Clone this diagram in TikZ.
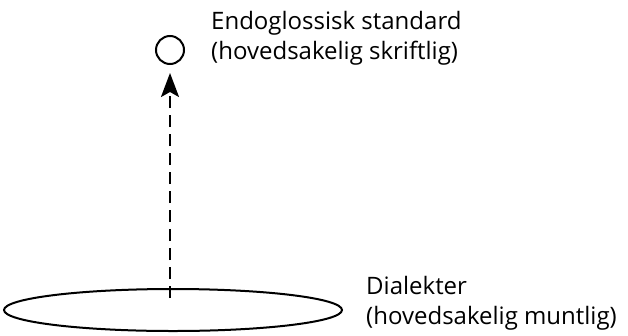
\documentclass[tikz,border=0pt]{standalone}
\usepackage{fontspec}
\setmainfont{Open Sans}
\usetikzlibrary{arrows.meta,shapes.geometric}
\begin{document}
\begin{tikzpicture}[x=1pt,y=-1pt,
  lbl/.style={anchor=base west,inner sep=0pt,align=left,font=\fontsize{24}{30}\selectfont},
  shp/.style={draw,line width=2pt}]
\useasboundingbox (0,0) rectangle (628,335);
\node[shp,circle,minimum size=28pt,inner sep=0pt] (std) at (170,50) {};
\node[shp,ellipse,minimum width=338pt,minimum height=42pt,inner sep=0pt] (dia) at (173,310) {};
\coordinate (c) at (170,298);
\coordinate (tip) at (170,73);
\draw[line width=2pt,dash pattern=on 12pt off 7pt,-{Stealth[length=24pt,width=18pt,inset=5pt]}] (c) -- (tip);
\node[lbl] (t1) at (211,59) {Endoglossisk standard\\(hovedsakelig skriftlig)};
\node[lbl] (t2) at (366,324) {Dialekter\\(hovedsakelig muntlig)};
\end{tikzpicture}
\end{document}
